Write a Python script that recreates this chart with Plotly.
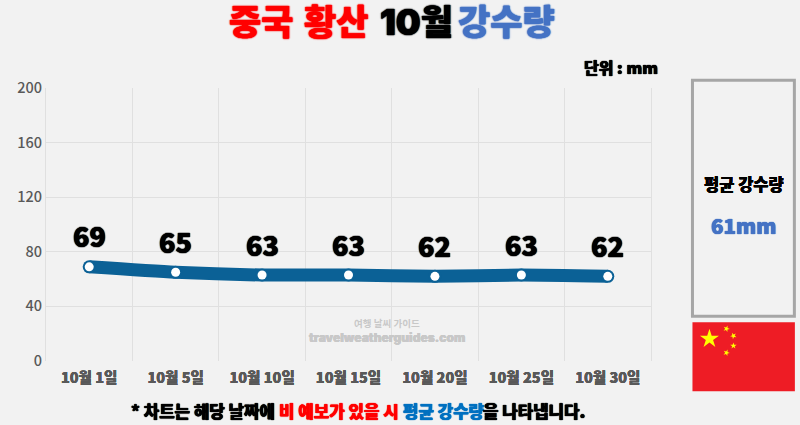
import math
import plotly.graph_objects as go

days = ["10월 1일", "10월 5일", "10월 10일", "10월 15일", "10월 20일", "10월 25일", "10월 30일"]
rain = [69, 65, 63, 63, 62, 63, 62]
y_ticks = [0, 40, 80, 120, 160, 200]
avg_label = "61mm"

FONT = "Noto Sans CJK KR"
TIGHT = "Inter, Noto Sans CJK KR"  # smaller line box, hangul still falls back to cjk
BG = "#f2f2f2"
W, H = 800, 425
L, R, T, B = 45.5, 651, 87.7, 360.7


def px_x(x):
    return (x - L) / (R - L)


def px_y(y):
    return (B - y) / (B - T)


def fat(color, w=1):
    # the source font is heavier than anything installed, so thicken with a soft shadow
    return f"0 0 {w}px {color}, 0 0 {w}px {color}, 0 0 {w}px {color}"


def note(x, y, text, size, color="#000000", weight=900, w=1, anchor="center", family=FONT):
    fig.add_annotation(xref="paper", yref="paper", x=px_x(x), y=px_y(y), text=text,
                       showarrow=False, xanchor=anchor, yanchor="middle",
                       font=dict(family=family, size=size, color=color, weight=weight,
                                 shadow=fat(color, w) if w else "none"))


def star(cx, cy, r, rot=0):
    # five point star as an svg path in paper coords
    pts = []
    for i in range(10):
        rad = r if i % 2 == 0 else r * 0.382
        a = math.radians(rot - 90 + i * 36)
        pts.append((px_x(cx + rad * math.cos(a)), px_y(cy + rad * math.sin(a))))
    return "M" + " L".join(f"{a:.5f},{b:.5f}" for a, b in pts) + " Z"


fig = go.Figure()

# dark markers give the thick line its round ends
fig.add_trace(go.Scatter(
    x=days, y=rain, mode="lines+markers",
    line=dict(color="#0b6196", width=13, shape="spline", smoothing=0.6),
    marker=dict(color="#0b6196", size=13),
    hoverinfo="skip", showlegend=False,
))
fig.add_trace(go.Scatter(
    x=days, y=rain, mode="markers",
    marker=dict(color="#ffffff", size=9),
    showlegend=False,
))

for d, v in zip(days, rain):
    fig.add_annotation(x=d, y=v, yshift=31, text=str(v), showarrow=False,
                       font=dict(family=FONT, size=27, color="#000000", weight=900,
                                 shadow=fat("#000000", 1)))

fig.update_layout(
    width=W, height=H,
    autosize=False,
    margin=dict(l=L, r=W - R, t=T, b=H - B),
    paper_bgcolor=BG, plot_bgcolor=BG,
    showlegend=False,
    font=dict(family=FONT),
    xaxis=dict(
        type="category", categoryorder="array", categoryarray=days,
        range=[-0.5, 6.5], tickson="boundaries", ticks="",
        showgrid=True, gridcolor="#e0e0e0", gridwidth=1, zeroline=False,
        showline=False, ticklabelstandoff=6,
        tickfont=dict(family=FONT, size=14.5, color="#595959", weight=900,
                      shadow=fat("#595959", 0.6)),
    ),
    yaxis=dict(
        range=[0, 200], tickvals=y_ticks, ticks="",
        showgrid=True, gridcolor="#e0e0e0", gridwidth=1, zeroline=False,
        showline=True, mirror=True, linecolor="#e0e0e0", linewidth=1,
        tickfont=dict(family=FONT, size=14.5, color="#595959", weight=500),
    ),
)

# right panel and flag
fig.add_shape(type="rect", xref="paper", yref="paper",
              x0=px_x(692.5), x1=px_x(794.5), y0=px_y(316), y1=px_y(80),
              line=dict(color="#a6a6a6", width=3), fillcolor=BG)
fig.add_shape(type="rect", xref="paper", yref="paper",
              x0=px_x(692.5), x1=px_x(795), y0=px_y(391), y1=px_y(322),
              line=dict(width=0), fillcolor="#ee1c25")
for cx, cy, r, rot in [(709.5, 338.5, 10, 0), (726.5, 328.5, 3.4, 20), (733.5, 335.5, 3.4, 45),
                       (733.5, 345.5, 3.4, 0), (726.5, 352.5, 3.4, 20)]:
    fig.add_shape(type="path", xref="paper", yref="paper", path=star(cx, cy, r, rot),
                  line=dict(width=0), fillcolor="#ffff00")

# title, one note per colour and word
note(227, 22, "중국", 35, color="#ff0000", w=1.2, anchor="left", family=TIGHT)
note(302, 22, "황산", 35, color="#ff0000", w=1.2, anchor="left", family=TIGHT)
note(378, 22, "10월", 35, w=1.2, anchor="left", family=TIGHT)
note(456, 22, "강수량", 35, color="#4472c4", w=1.2, anchor="left", family=TIGHT)

note(621, 67, "단위 : mm", 16, w=0.7)
note(744, 184, "평균 강수량", 16.5, w=0.6)
note(743.5, 225, avg_label, 20.5, color="#4472c4", w=0.7)
note(387, 323.5, "여행 날씨 가이드", 9.5, color="#c8c8c8", weight=700, w=0, family=TIGHT)
note(387, 337.5, "travelweatherguides.com", 12, color="#c8c8c8", w=0.4, family=TIGHT)

# footnote, same
note(129, 411, "* 차트는 해당 날짜에", 16.8, w=0.7, anchor="left")
note(277, 411, "비 예보가 있을 시", 16.8, color="#ff0000", w=0.7, anchor="left")
note(401, 411, "평균 강수량", 16.8, color="#0070c0", w=0.7, anchor="left")
note(481, 411, "을 나타냅니다.", 16.8, w=0.7, anchor="left")

# page has an 8px body margin by default
fig.write_html("out.html", config=dict(displayModeBar=False),
               post_script="document.body.style.margin='0';")
